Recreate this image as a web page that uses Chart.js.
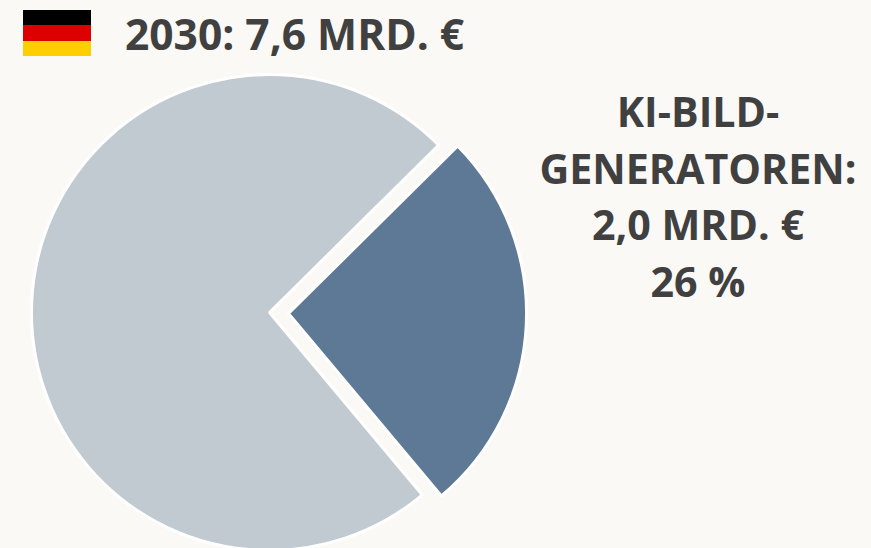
<!DOCTYPE html>
<html lang="de">
<head>
<meta charset="utf-8">
<title>KI-Bild-Generatoren 2030</title>
<script src="https://cdn.jsdelivr.net/npm/chart.js@4"></script>
<style>
  html, body { margin: 0; padding: 0; width: 871px; height: 548px; overflow: hidden; background: #faf9f5; }
  body { position: relative; font-family: "Open Sans", sans-serif; font-weight: 700; color: #404040; }
  #chartBox { position: absolute; left: -8px; top: 35px; width: 555px; height: 555px; }
  #flag { position: absolute; left: 23px; top: 10px; width: 68px; height: 46px; }
  #flag div { height: 15.33px; }
  #title { position: absolute; left: 125px; top: 5px; font-size: 42.5px; line-height: 57px; white-space: nowrap; }
  #note { position: absolute; left: 525px; top: 83px; width: 346px; text-align: center; font-size: 41.2px; line-height: 56.5px; }
</style>
</head>
<body>
<div id="flag"><div style="background:#000"></div><div style="background:#dd0000"></div><div style="background:#ffce00"></div></div>
<div id="title"></div>
<div id="note"></div>
<div id="chartBox"><canvas id="myChart" width="555" height="555"></canvas></div>
<script>
const categories = ["KI-Bild-Generatoren", "Sonstige"];
const values = [2.0, 5.6];
const sliceColors = ["#5d7995", "#c1cad0"];
const titleText = "2030: 7,6 MRD. €";
const noteLines = ["KI-BILD-", "GENERATOREN:", "2,0 MRD. €", "26 %"];

document.getElementById("title").textContent = titleText;
document.getElementById("note").innerHTML = noteLines.join("<br>");

new Chart(document.getElementById("myChart"), {
  type: "pie",
  data: {
    labels: categories,
    datasets: [
      {
        data: values,
        backgroundColor: sliceColors,
        borderColor: "#ffffff",
        borderWidth: 3,
        // arc.draw moves a slice by offset / 4, so 76 gives a 19px gap
        offset: [76, 0],
      },
    ],
  },
  options: {
    responsive: false,
    animation: false,
    rotation: 45.3,
    plugins: {
      legend: { display: false },
      tooltip: { enabled: false },
    },
  },
});
</script>
</body>
</html>
